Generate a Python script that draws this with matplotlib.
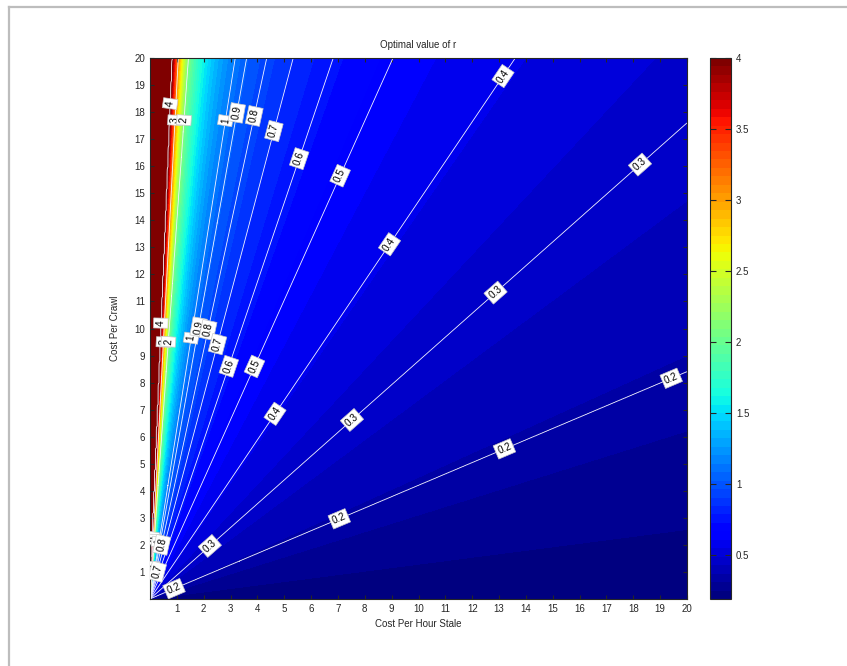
import numpy as np
import matplotlib
matplotlib.use('Agg')
import matplotlib.pyplot as plt
from matplotlib.colors import Normalize
from matplotlib.cm import ScalarMappable
from matplotlib.lines import Line2D

plt.rcParams['font.family'] = ['Liberation Sans', 'DejaVu Sans']

# pendiente (coste crawl / coste hora stale) por la que pasa cada valor de r
pendientes = [0.0, 0.128, 0.31, 0.42, 0.88, 1.47, 2.21, 2.93, 3.75, 4.6, 5.56, 6.3, 14.0, 19.0, 24.0]
valores_r = [0.03, 0.082, 0.144, 0.2, 0.3, 0.4, 0.5, 0.6, 0.7, 0.8, 0.9, 1.0, 2.0, 3.0, 4.0]
niveles_linea = [0.2, 0.3, 0.4, 0.5, 0.6, 0.7, 0.8, 0.9, 1, 2, 3, 4]
ticks_eje = list(range(1, 21))
ticks_barra = [0.5, 1, 1.5, 2, 2.5, 3, 3.5, 4]

# Malla del campo r(y/x)
x = np.linspace(0, 20, 601)
y = np.linspace(0, 20, 601)
X, Y = np.meshgrid(x, y)
S = Y / np.maximum(X, 1e-6)
R = np.interp(S, pendientes, valores_r)

jet = plt.get_cmap('jet', 64)

fig = plt.figure(figsize=(8.47, 6.66), dpi=100)
ax = fig.add_axes([0.1771, 0.1006, 0.6340, 0.8123])
cax = fig.add_axes([0.8383, 0.1006, 0.0248, 0.8123])

# Relleno
niveles_fill = np.linspace(0.02, 4.0001, 65)
ax.contourf(X, Y, R, levels=niveles_fill, cmap=jet, norm=Normalize(0.02, 4.0001))

# Lineas blancas con etiquetas en caja
niveles = [min(n, 3.99) for n in niveles_linea]
cs = ax.contour(X, Y, R, levels=niveles, colors='#f4f4ff', linewidths=0.6)

posiciones = [
    (0.82, 18.3), (0.37, 10.2),
    (0.97, 17.7), (0.48, 9.5),
    (1.34, 17.7), (0.86, 9.5),
    (2.72, 17.7), (1.49, 9.65),
    (3.24, 17.97), (1.82, 10.05),
    (3.87, 17.86), (2.2, 9.94),
    (4.62, 17.3), (2.6, 9.4),
    (5.5, 16.3), (2.94, 8.6),
    (7.19, 15.6), (4.02, 8.54),
    (13.2, 19.3), (8.94, 13.1), (4.58, 6.9),
    (18.3, 16.0), (12.85, 11.35), (7.52, 6.62), (2.23, 1.96),
    (19.4, 8.2), (13.2, 5.55), (7.04, 3.0), (0.86, 0.44),
    (0.09, 2.3), (0.2, 2.2), (0.33, 2.1), (0.45, 2.0), (0.1, 1.2), (0.3, 1.0),
]
etiquetas = ax.clabel(cs, niveles, inline=True, inline_spacing=2,
                      fmt=lambda v: '%g' % round(v, 1), fontsize=7.2,
                      manual=posiciones)
for t in etiquetas:
    t.set_color('black')
    t.set_bbox(dict(facecolor='white', edgecolor='#c8c8c8', linewidth=0.5, pad=1.6))

ax.set_xlim(0, 20)
ax.set_ylim(0, 20)
ax.set_xticks(ticks_eje)
ax.set_yticks(ticks_eje)
ax.tick_params(direction='in', length=3, labelsize=7, top=True, right=True,
               colors='#262626', labelcolor='#262626')
for sp in ax.spines.values():
    sp.set_color('#262626')
    sp.set_linewidth(0.8)
ax.set_title('Optimal value of r', fontsize=7, color='#262626', pad=7)
ax.set_xlabel('Cost Per Hour Stale', fontsize=7, color='#262626', labelpad=4)
ax.set_ylabel('Cost Per Crawl', fontsize=7, color='#262626', labelpad=10)

# Barra de color
sm = ScalarMappable(norm=Normalize(0.19, 4), cmap=jet)
cb = fig.colorbar(sm, cax=cax)
cb.set_ticks(ticks_barra)
cb.set_ticklabels(['%g' % v for v in ticks_barra])
cax.tick_params(direction='in', length=4, labelsize=7, left=True, right=True,
                colors='#262626', labelcolor='#262626')
cb.outline.set_edgecolor('#262626')
cb.outline.set_linewidth(0.8)

# Marco gris de la ventana
fig.add_artist(Line2D([0.0106, 0.0106], [0.0, 0.9895], transform=fig.transFigure,
                      color='#bdbdbd', linewidth=1.6))
fig.add_artist(Line2D([0.0106, 1.0], [0.9895, 0.9895], transform=fig.transFigure,
                      color='#bdbdbd', linewidth=1.6))

fig.savefig('out.png', dpi=100)
